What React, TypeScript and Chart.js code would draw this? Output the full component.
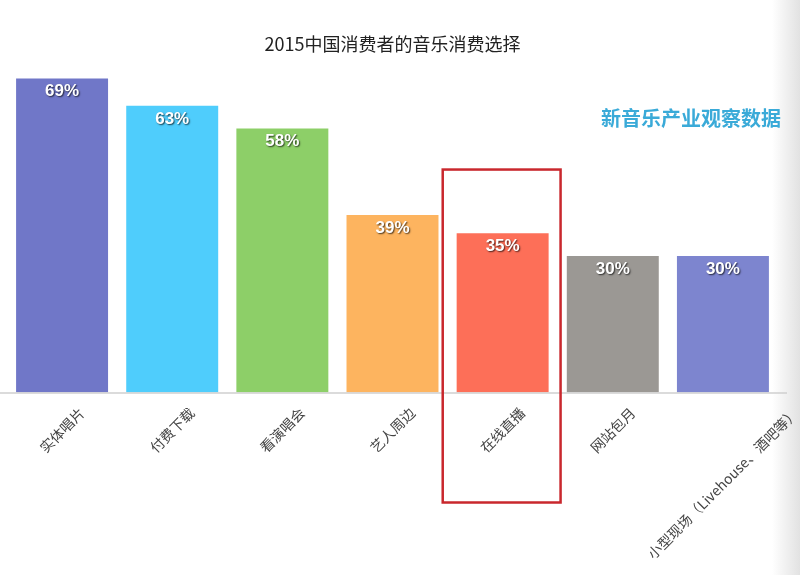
import React, { useEffect, useRef } from 'react';
import { Chart, registerables } from 'chart.js';

Chart.register(...registerables);

const TITLE = '2015中国消费者的音乐消费选择';
const WATERMARK = '新音乐产业观察数据';
const categories = ['实体唱片', '付费下载', '看演唱会', '艺人周边', '在线直播', '网站包月', '小型现场（Livehouse、酒吧等）'];
const values = [69, 63, 58, 39, 35, 30, 30];
const barColors = ['#7077C8', '#4FCDFC', '#8DCF68', '#FDB45F', '#FD6F58', '#9B9894', '#7D85CF'];
const highlightIndex = 4;
const highlightTopValue = 49;

const CJK = '"Noto Sans CJK SC", "Noto Sans", sans-serif';

const decorPlugin = {
  id: 'decor',
  afterDatasetsDraw(chart: any) {
    const { ctx, chartArea, scales } = chart;
    const xs = scales.x;
    const ys = scales.y;
    const meta = chart.getDatasetMeta(0);
    ctx.save();

    // axis line
    ctx.strokeStyle = '#cfcfcf';
    ctx.lineWidth = 1.5;
    ctx.beginPath();
    ctx.moveTo(0, chartArea.bottom + 0.5);
    ctx.lineTo(chartArea.right + 9, chartArea.bottom + 0.5);
    ctx.stroke();

    // value labels
    ctx.save();
    ctx.font = 'bold 17px "Liberation Sans", Arial, sans-serif';
    ctx.textAlign = 'center';
    ctx.textBaseline = 'middle';
    ctx.shadowColor = 'rgba(0,0,0,0.7)';
    ctx.shadowOffsetX = 1;
    ctx.shadowOffsetY = 1;
    ctx.shadowBlur = 1.5;
    ctx.fillStyle = '#ffffff';
    meta.data.forEach((bar: any, i: number) => {
      ctx.fillText(values[i] + '%', bar.x, bar.y + 13);
    });
    ctx.restore();

    // category labels (rotated around their centre)
    ctx.font = '14px ' + CJK;
    ctx.fillStyle = '#444444';
    ctx.textAlign = 'center';
    ctx.textBaseline = 'middle';
    categories.forEach((c, i) => {
      const px = xs.getPixelForValue(i);
      const L = ctx.measureText(c).width;
      const h = 14;
      const bh = (L + h) * Math.SQRT1_2;
      const cy = chartArea.bottom + 13 + bh / 2;
      ctx.save();
      ctx.translate(px, cy);
      ctx.rotate(-Math.PI / 4);
      ctx.fillText(c, 0, 0);
      ctx.restore();
    });

    // highlight box
    const cx = xs.getPixelForValue(highlightIndex);
    const step = xs.getPixelForValue(1) - xs.getPixelForValue(0);
    const half = step * 0.535;
    const top = ys.getPixelForValue(highlightTopValue);
    ctx.strokeStyle = '#c9272d';
    ctx.lineWidth = 2.5;
    ctx.strokeRect(cx - half - 1, top, 2 * half, chartArea.bottom + 110 - top);

    // title
    ctx.font = '18px ' + CJK;
    ctx.fillStyle = '#222222';
    ctx.textAlign = 'center';
    ctx.textBaseline = 'middle';
    ctx.fillText(TITLE, (chartArea.left + chartArea.right) / 2, 44);

    // watermark
    ctx.font = 'bold 20px ' + CJK;
    ctx.fillStyle = '#3aaad8';
    ctx.textAlign = 'right';
    ctx.fillText(WATERMARK, chartArea.right + 3, 118);

    ctx.restore();
  },
};

export default function App() {
  const ref = useRef<HTMLCanvasElement | null>(null);

  useEffect(() => {
    document.body.style.margin = '0';
    if (!ref.current) return;
    const chart = new Chart(ref.current, {
      type: 'bar',
      data: {
        labels: categories,
        datasets: [
          {
            data: values,
            backgroundColor: barColors,
            borderWidth: 0,
            barPercentage: 0.835,
            categoryPercentage: 1,
          },
        ],
      },
      options: {
        animation: false,
        responsive: true,
        maintainAspectRatio: false,
        layout: { padding: { top: 74, left: 7, right: 22, bottom: 182.5 } },
        plugins: {
          legend: { display: false },
          title: { display: false },
          tooltip: { enabled: false },
        },
        scales: {
          x: {
            grid: { display: false, drawTicks: false },
            border: { display: false },
            ticks: { display: false },
          },
          y: {
            display: false,
            min: 0,
            max: 70,
          },
        },
      },
      plugins: [decorPlugin],
    });
    return () => chart.destroy();
  }, []);

  return (
    <div
      style={{
        position: 'relative',
        width: 800,
        height: 575,
        background: 'linear-gradient(to right, #ffffff 0px, #ffffff 772px, #e2e2e2 800px)',
      }}
    >
      <canvas ref={ref} />
    </div>
  );
}
